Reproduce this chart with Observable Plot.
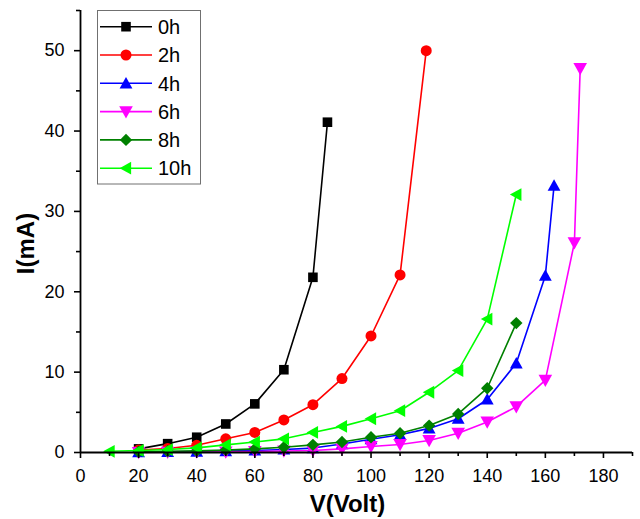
<!DOCTYPE html>
<html><head><meta charset="utf-8">
<script src="https://cdn.jsdelivr.net/npm/d3@7"></script>
<script src="https://cdn.jsdelivr.net/npm/@observablehq/plot@0.6"></script>
<style>
body{margin:0;background:#fff}
svg{font-family:"Liberation Sans",Arial,sans-serif}
</style>
</head><body><div id="chart"></div>
<script>
// ---- data ----
const seriesNames  = ["0h","2h","4h","6h","8h","10h"];
const seriesColors = ["#000000","#ff0000","#0000ff","#ff00ff","#008000","#00ff00"];

const v0h = [20,30,40,50,60,70,80,85];
const i0h = [0.45,1.1,1.9,3.55,6.05,10.3,21.8,41.1];

const v2h = [20,30,40,50,60,70,80,90,100,110,119];
const i2h = [0.3,0.5,0.9,1.7,2.5,4.05,5.95,9.2,14.5,22.1,50.0];

const v4h = [20,30,40,50,60,70,80,90,100,110,120,130,140,150,160,163];
const i4h = [0.05,0.08,0.12,0.18,0.25,0.38,0.55,1.05,1.65,2.2,3.0,4.2,6.6,11.1,22.0,33.2];

const v6h = [20,30,40,50,60,70,80,90,100,110,120,130,140,150,160,170,172];
const i6h = [0.02,0.04,0.06,0.08,0.12,0.18,0.25,0.45,0.75,1.0,1.5,2.4,3.8,5.7,9.0,26.1,47.8];

const v8h = [20,30,40,50,60,70,80,90,100,110,120,130,140,150];
const i8h = [0.1,0.15,0.2,0.3,0.45,0.65,0.95,1.3,1.9,2.4,3.35,4.8,8.0,16.1];

const v10h = [10,20,30,40,50,60,70,80,90,100,110,120,130,140,150];
const i10h = [0.15,0.25,0.37,0.58,0.95,1.3,1.7,2.5,3.25,4.2,5.2,7.5,10.2,16.6,32.1];

const xMajorTicks = [0,20,40,60,80,100,120,140,160,180];
const xMinorTicks = [10,30,50,70,90,110,130,150,170,190];
const yMajorTicks = [0,10,20,30,40,50];
const yMinorTicks = [5,15,25,35,45,55];
const xTitle = "V(Volt)";
const yTitle = "I(mA)";

// ---- marker shapes (h = half size) ----
const H = s => Math.sqrt(s / Math.PI);
const symSquare = {draw(c, s){const h=H(s); c.rect(-h,-h,2*h,2*h);}};
const symCircle = {draw(c, s){const h=H(s); c.moveTo(h,0); c.arc(0,0,h,0,2*Math.PI);}};
const symUp     = {draw(c, s){const h=H(s); c.moveTo(0,-1.0*h); c.lineTo(h,0.8*h); c.lineTo(-h,0.8*h); c.closePath();}};
const symDown   = {draw(c, s){const h=H(s); c.moveTo(0,1.0*h); c.lineTo(h,-0.8*h); c.lineTo(-h,-0.8*h); c.closePath();}};
const symDiam   = {draw(c, s){const h=H(s); c.moveTo(0,-h); c.lineTo(h,0); c.lineTo(0,h); c.lineTo(-h,0); c.closePath();}};
const symLeft   = {draw(c, s){const h=H(s); c.moveTo(-1.0*h,0); c.lineTo(0.8*h,-h); c.lineTo(0.8*h,h); c.closePath();}};
const symbols = [symSquare, symCircle, symUp, symDown, symDiam, symLeft];
const radii   = [4.8, 5.5, 6.4, 6.8, 6.2, 6.4];

const allV = [v0h,v2h,v4h,v6h,v8h,v10h];
const allI = [i0h,i2h,i4h,i6h,i8h,i10h];
const tables = allV.map((vs, k) => vs.map((v, j) => ({v, i: allI[k][j], s: seriesNames[k]})));

const marks = [];
tables.forEach((rows, k) => {
  marks.push(Plot.line(rows, {x: "v", y: "i", stroke: seriesColors[k], strokeWidth: 1.6}));
  marks.push(Plot.dot(rows, {x: "v", y: "i", symbol: symbols[k], r: radii[k], fill: seriesColors[k], stroke: "none"}));
});

const chart = Plot.plot({
  width: 640, height: 519,
  marginLeft: 80, marginRight: 8, marginTop: 10, marginBottom: 67,
  style: {fontFamily: "'Liberation Sans', Arial, sans-serif", background: "#fff", color: "#000"},
  x: {domain: [0, 190]},
  y: {domain: [0, 55]},
  marks: [
    ...marks,
    Plot.ruleX([0], {stroke: "#000", strokeWidth: 1.8}),
    Plot.ruleY([0], {stroke: "#000", strokeWidth: 1.8}),
    Plot.axisX({ticks: xMajorTicks, tickSize: 6, tickPadding: 11, fontSize: 18, strokeWidth: 1.6, label: null, tickFormat: d => String(d)}),
    Plot.axisX({ticks: xMinorTicks, tickSize: 4, fill: "none", strokeWidth: 1.6, label: null}),
    Plot.axisY({ticks: yMajorTicks, tickSize: 6, tickPadding: 10, fontSize: 18, strokeWidth: 1.6, label: null, tickFormat: d => String(d)}),
    Plot.axisY({ticks: yMinorTicks, tickSize: 4, fill: "none", strokeWidth: 1.6, label: null}),
    Plot.text([xTitle], {frameAnchor: "bottom", lineAnchor: "middle", textAnchor: "middle", dx: -9, dy: 52, fontSize: 24, fontWeight: "bold", text: d => d}),
    Plot.text([yTitle], {frameAnchor: "left", lineAnchor: "middle", textAnchor: "middle", dx: -54, dy: 12, rotate: -90, fontSize: 24, fontWeight: "bold", text: d => d})
  ]
});
document.getElementById("chart").appendChild(chart);

// ---- legend (inside the svg, from the series arrays) ----
const svg = d3.select(chart.tagName.toLowerCase() === "svg" ? chart : chart.querySelector("svg"));
const lg = svg.append("g").attr("class", "legend");
const box = {x: 97.5, y: 10.5, w: 103, h: 173.5};
lg.append("rect").attr("x", box.x).attr("y", box.y).attr("width", box.w).attr("height", box.h)
  .attr("fill", "#fff").attr("stroke", "#707070").attr("stroke-width", 1);
seriesNames.forEach((name, k) => {
  const cy = 26.7 + k * 28.3;
  lg.append("line").attr("x1", 100).attr("x2", 152).attr("y1", cy).attr("y2", cy)
    .attr("stroke", seriesColors[k]).attr("stroke-width", 1.6);
  lg.append("path").attr("transform", `translate(126,${cy})`)
    .attr("d", d3.symbol(symbols[k], radii[k] * radii[k] * Math.PI)())
    .attr("fill", seriesColors[k]);
  lg.append("text").attr("x", 158).attr("y", cy).attr("dy", "0.36em")
    .attr("text-anchor", "start")
    .attr("font-size", 20).attr("fill", "#000").text(name);
});
</script>
</body></html>
